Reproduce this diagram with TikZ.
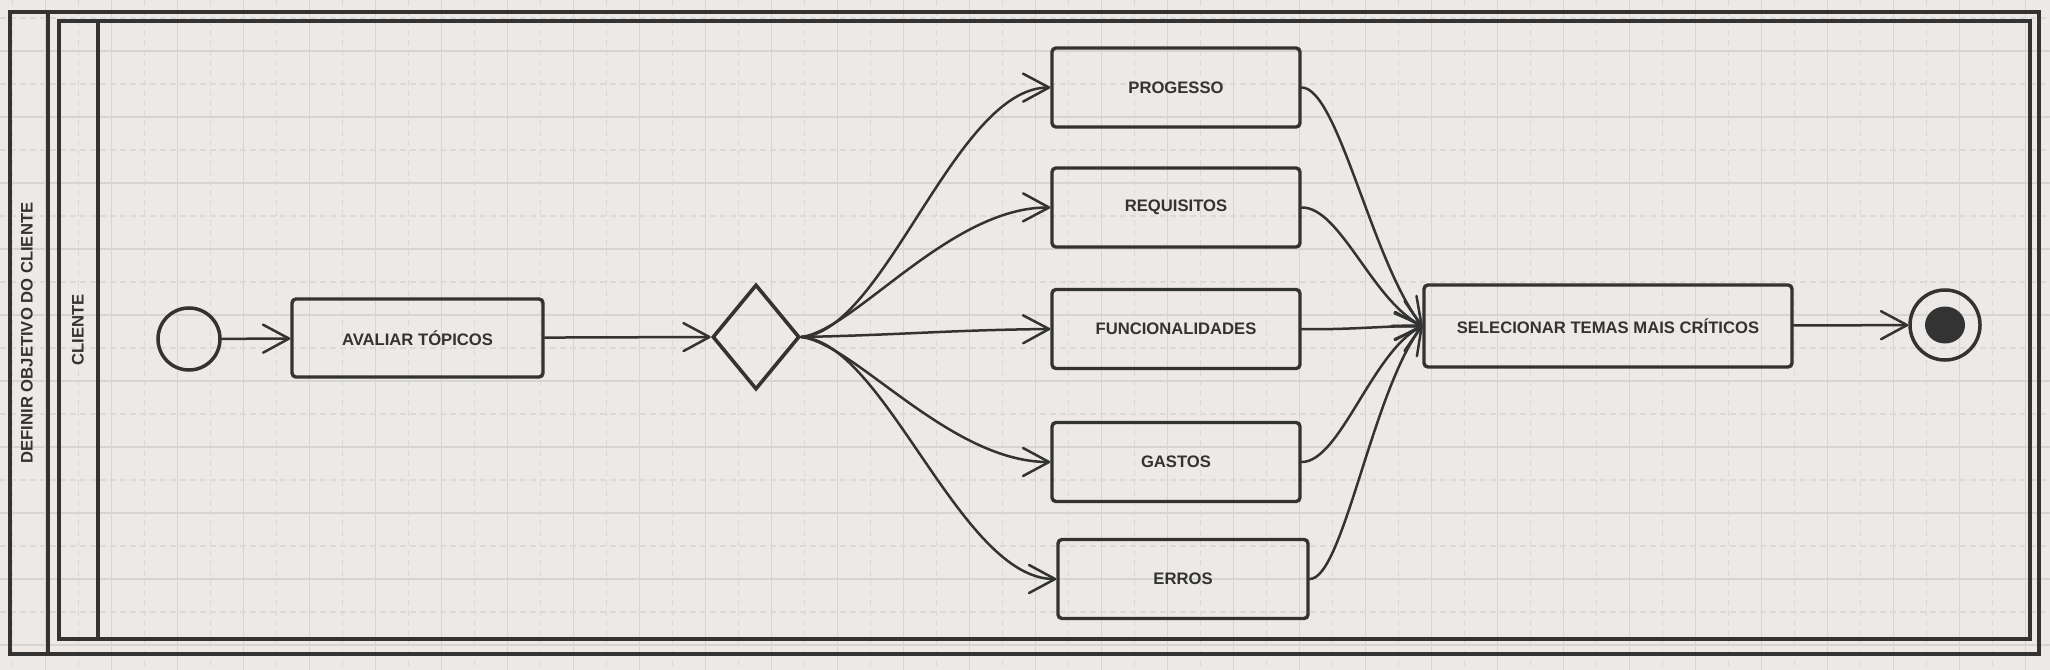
\documentclass[tikz,border=0pt]{standalone}
\usepackage{fontspec}
\setmainfont{Liberation Sans}
\usetikzlibrary{arrows.meta,shapes.geometric}
\definecolor{bgc}{HTML}{ECE9E6}
\definecolor{gridc}{HTML}{D5D5D4}
\definecolor{gridd}{HTML}{DBDAD8}
\definecolor{ink}{HTML}{333333}
\begin{document}
\begin{tikzpicture}[x=0.5bp,y=-0.5bp,
  every node/.style={font=\fontsize{8.35}{10}\selectfont\bfseries, text=ink},
  task/.style={draw=ink, line width=1.7bp, rounded corners=2bp, inner sep=0pt,
               minimum width=124bp, minimum height=39.5bp},
  arr/.style={draw=ink, line width=1.25bp, line cap=round,
              -{Straight Barb[length=13bp,width=14bp,round]}},
  frame/.style={draw=ink, line width=2bp},
  lbl/.style={rotate=90, inner sep=0pt}]
\useasboundingbox (0,0) rectangle (2050,670);
\clip (0,0) rectangle (2050,670);
\fill[bgc] (0,0) rectangle (2050,670);
% grid
\foreach \i in {0,...,31} {
  \draw[gridd, line width=0.6bp, dash pattern=on 3bp off 2bp] ({12.5+66*\i},0) -- ({12.5+66*\i},670);
}
\foreach \i in {0,...,30} {
  \draw[gridc, line width=0.6bp] ({45.5+66*\i},0) -- ({45.5+66*\i},670);
}
\foreach \j in {0,...,10} {
  \draw[gridd, line width=0.6bp, dash pattern=on 3bp off 2bp] (0,{18+66*\j}) -- (2050,{18+66*\j});
}
\foreach \j in {0,...,9} {
  \draw[gridc, line width=0.6bp] (0,{51+66*\j}) -- (2050,{51+66*\j});
}
% pool and lane frames
\draw[frame] (10,12) rectangle (2039,654);
\draw[frame] (48,12) -- (48,654);
\draw[frame] (59,21) rectangle (2030,639);
\draw[frame] (98,21) -- (98,639);
\node[lbl] (poolname) at (27,333) {DEFINIR OBJETIVO DO CLIENTE};
\node[lbl] (lanename) at (78,330) {CLIENTE};
% nodes
\node[circle, draw=ink, line width=1.75bp, minimum size=31bp, inner sep=0pt] (start) at (189,339) {};
\node[task, minimum width=125.5bp, minimum height=39bp] (ava) at (417.5,338) {AVALIAR TÓPICOS};
\node[diamond, draw=ink, line width=1.8bp, minimum width=43.5bp, minimum height=52.5bp, inner sep=0pt] (dec) at (756,337) {};
\node[task] (prog) at (1176,87.5) {PROGESSO};
\node[task] (req) at (1176,207.5) {REQUISITOS};
\node[task] (func) at (1176,329) {FUNCIONALIDADES};
\node[task] (gas) at (1176,462) {GASTOS};
\node[task, minimum width=125bp] (err) at (1183,579) {ERROS};
\node[task, minimum width=184bp, minimum height=41bp] (sel) at (1608,326) {SELECIONAR TEMAS MAIS CRÍTICOS};
\node[circle, draw=ink, line width=1.75bp, minimum size=35bp, inner sep=0pt] (end) at (1945,325) {};
\node[ellipse, fill=ink, minimum width=20bp, minimum height=18.5bp, inner sep=0pt] (endin) at (1945,325) {};
% connectors
\draw[arr] (start) -- (ava);
\draw[arr] (ava) -- (dec.west);
\draw[arr] (dec.east) .. controls (885,332) and (955,88) .. (prog.west);
\draw[arr] (dec.east) .. controls (855,330) and (950,207) .. (req.west);
\draw[arr] (dec.east) .. controls (900,335) and (950,330) .. (func.west);
\draw[arr] (dec.east) .. controls (855,344) and (950,462) .. (gas.west);
\draw[arr] (dec.east) .. controls (885,342) and (960,579) .. (err.west);
\draw[arr] (prog.east) .. controls (1338,88) and (1372,262) .. (sel.west);
\draw[arr] (req.east) .. controls (1340,207) and (1372,300) .. (sel.west);
\draw[arr] (func.east) .. controls (1350,330) and (1380,326) .. (sel.west);
\draw[arr] (gas.east) .. controls (1340,462) and (1372,352) .. (sel.west);
\draw[arr] (err.east) .. controls (1343,579) and (1372,392) .. (sel.west);
\draw[arr] (sel) -- (end);
\end{tikzpicture}
\end{document}
